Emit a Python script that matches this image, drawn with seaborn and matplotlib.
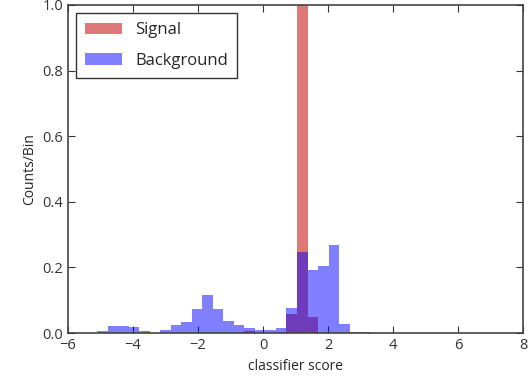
import numpy as np
import pandas as pd
import seaborn as sns
import matplotlib
matplotlib.use("Agg")
import matplotlib.pyplot as plt

# histogram range and number of bins
score_min, score_max = -5.10, 3.31
n_bins = 26

# counts per bin
background = [0.007, 0.022, 0.022, 0.018, 0.005, 0.0, 0.011, 0.026, 0.033, 0.075,
              0.116, 0.075, 0.038, 0.024, 0.016, 0.010, 0.010, 0.015, 0.076, 0.246,
              0.192, 0.205, 0.268, 0.027, 0.004, 0.004]
signal = [0.0, 0.0, 0.0, 0.0, 0.0, 0.0, 0.0, 0.0, 0.0, 0.0,
          0.0, 0.0, 0.0, 0.0, 0.005, 0.0, 0.0, 0.004, 0.058, 2.0,
          0.05, 0.0, 0.0, 0.0, 0.0, 0.0]

edges = np.linspace(score_min, score_max, n_bins + 1)
centers = (edges[:-1] + edges[1:]) / 2
df = pd.DataFrame({"score": centers, "signal": signal, "background": background})

sns.set_style("ticks")
plt.rcParams["font.family"] = ["Open Sans", "DejaVu Sans"]

fig = plt.figure(figsize=(5.31, 3.76), dpi=100)
ax = fig.add_axes([0.128, 0.114, 0.857, 0.873])

sns.histplot(data=df, x="score", weights="signal", bins=n_bins, binrange=(score_min, score_max),
             color="#C81E1E", alpha=0.6, linewidth=0, label="Signal", ax=ax)
sns.histplot(data=df, x="score", weights="background", bins=n_bins, binrange=(score_min, score_max),
             color="blue", alpha=0.5, linewidth=0, label="Background", ax=ax)

ax.set_xlim(-6, 8)
ax.set_ylim(0, 1.0)
ax.set_xticks(range(-6, 9, 2))
ax.set_yticks([0.0, 0.2, 0.4, 0.6, 0.8, 1.0])
ax.set_xticklabels(["\u22126", "\u22124", "\u22122", "0", "2", "4", "6", "8"])
ax.set_yticklabels(["0.0", "0.2", "0.4", "0.6", "0.8", "1.0"])
ax.set_xlabel("classifier score", fontsize=10)
ax.set_ylabel("Counts/Bin", fontsize=10)
ax.tick_params(direction="in", top=True, right=True, length=5, labelsize=10.5, colors="#333333")
for s in ax.spines.values():
    s.set_color("#444444")
    s.set_linewidth(1.2)

leg = ax.legend(loc="upper left", fontsize=12, fancybox=False, handlelength=2.2,
                labelspacing=0.85, borderpad=0.55, borderaxespad=0.5)
leg.get_frame().set_edgecolor("black")
leg.get_frame().set_linewidth(1.0)

fig.savefig("out.png", dpi=100)
